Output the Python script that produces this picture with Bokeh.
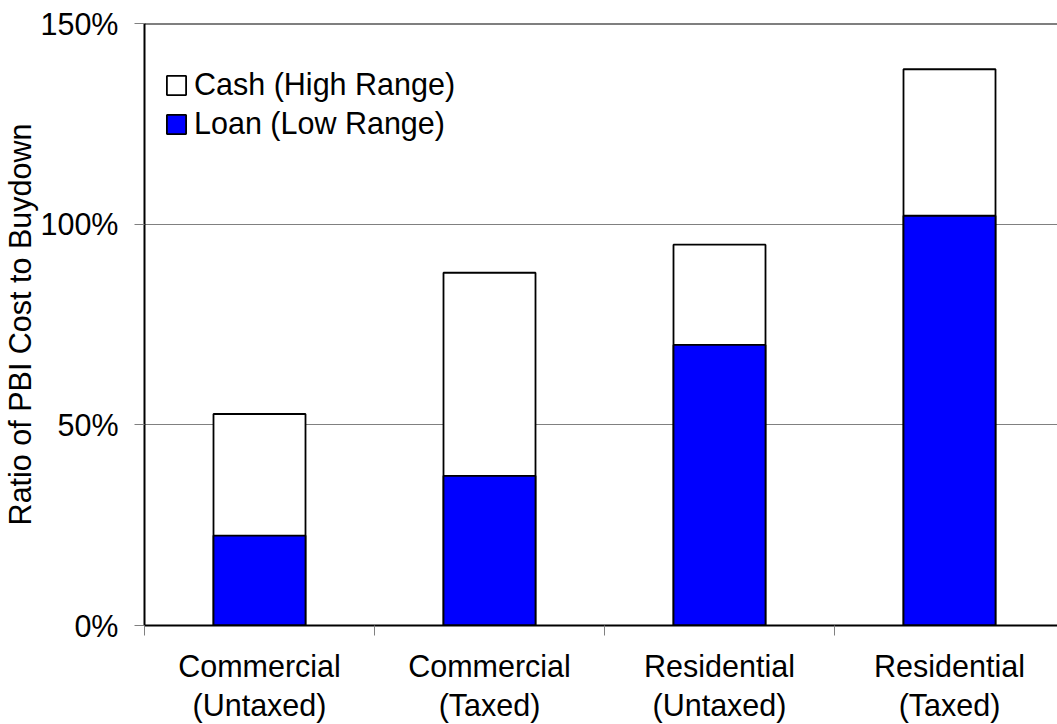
from bokeh.plotting import figure
from bokeh.models import (Range1d, FixedTicker, PrintfTickFormatter, Span, Legend, LegendItem,
                          ColumnDataSource)
from bokeh.embed import file_html
from bokeh.resources import INLINE

categories = ["Commercial\n(Untaxed)", "Commercial\n(Taxed)", "Residential\n(Untaxed)", "Residential\n(Taxed)"]
cash_high = [52.7, 87.9, 94.9, 138.6]
loan_low = [22.4, 37.3, 69.9, 102.1]
y_ticks = [0, 50, 100, 150]

FONT = "Liberation Sans"
FS = "30.5px"

xs = [i + 0.5 for i in range(len(categories))]
src = ColumnDataSource(dict(x=xs, cash=cash_high, loan=loan_low))

p = figure(width=1057, height=724, output_backend="svg", toolbar_location=None,
           x_range=Range1d(0, 913 / 230), y_range=Range1d(0, 150),
           min_border_left=144, min_border_right=0, min_border_top=23, min_border_bottom=98)
p.outline_line_color = None
p.background_fill_color = "white"
p.border_fill_color = "white"

r_cash = p.vbar(x="x", top="cash", bottom=0, width=0.4, source=src,
                fill_color="white", line_color="black", line_width=1.8)
r_loan = p.vbar(x="x", top="loan", bottom=0, width=0.4, source=src,
                fill_color="#0000FF", line_color="black", line_width=1.8)

# x axis
p.xaxis.ticker = FixedTicker(ticks=xs, minor_ticks=[0, 1, 2, 3, 4])
p.xaxis.major_label_overrides = {x: c for x, c in zip(xs, categories)}
p.xaxis.major_tick_out = 0
p.xaxis.major_tick_in = 0
p.xaxis.minor_tick_out = 10
p.xaxis.minor_tick_in = 0
p.xaxis.minor_tick_line_color = "#808080"
p.xaxis.axis_line_color = "black"
p.xaxis.axis_line_width = 2
p.xaxis.major_label_text_font = FONT
p.xaxis.major_label_text_font_size = FS
p.xaxis.major_label_text_color = "black"
p.xaxis.major_label_text_line_height = 1.15
p.xaxis.major_label_standoff = 13

# y axis
p.yaxis.ticker = FixedTicker(ticks=y_ticks)
p.yaxis.formatter = PrintfTickFormatter(format="%d%%")
p.yaxis.major_tick_out = 10
p.yaxis.major_tick_in = 0
p.yaxis.minor_tick_line_color = None
p.yaxis.major_tick_line_color = "#808080"
p.yaxis.axis_line_color = "black"
p.yaxis.axis_line_width = 2
p.yaxis.major_label_text_font = FONT
p.yaxis.major_label_text_font_size = FS
p.yaxis.major_label_text_color = "black"
p.yaxis.major_label_standoff = 16
p.yaxis.axis_label = "Ratio of PBI Cost to Buydown"
p.yaxis.axis_label_text_font = FONT
p.yaxis.axis_label_text_font_size = FS
p.yaxis.axis_label_text_font_style = "normal"
p.yaxis.axis_label_text_color = "black"
p.yaxis.axis_label_standoff = 0

p.xgrid.grid_line_color = None
p.ygrid.ticker = FixedTicker(ticks=[50, 100])
p.ygrid.grid_line_color = "#808080"
p.ygrid.grid_line_width = 1

p.add_layout(Span(location=150, dimension="width", line_color="black", line_width=2))

legend = Legend(items=[LegendItem(label="Cash (High Range)", renderers=[r_cash]),
                       LegendItem(label="Loan (Low Range)", renderers=[r_loan])],
                location=(20, 484), orientation="vertical")
legend.label_text_font = FONT
legend.label_text_font_size = FS
legend.label_text_color = "black"
legend.glyph_width = 24
legend.glyph_height = 24
legend.label_standoff = 6
legend.spacing = 4
legend.padding = 10
legend.margin = 0
legend.border_line_color = None
legend.background_fill_alpha = 0
p.add_layout(legend)

open("out.html", "w").write(file_html(p, INLINE))
